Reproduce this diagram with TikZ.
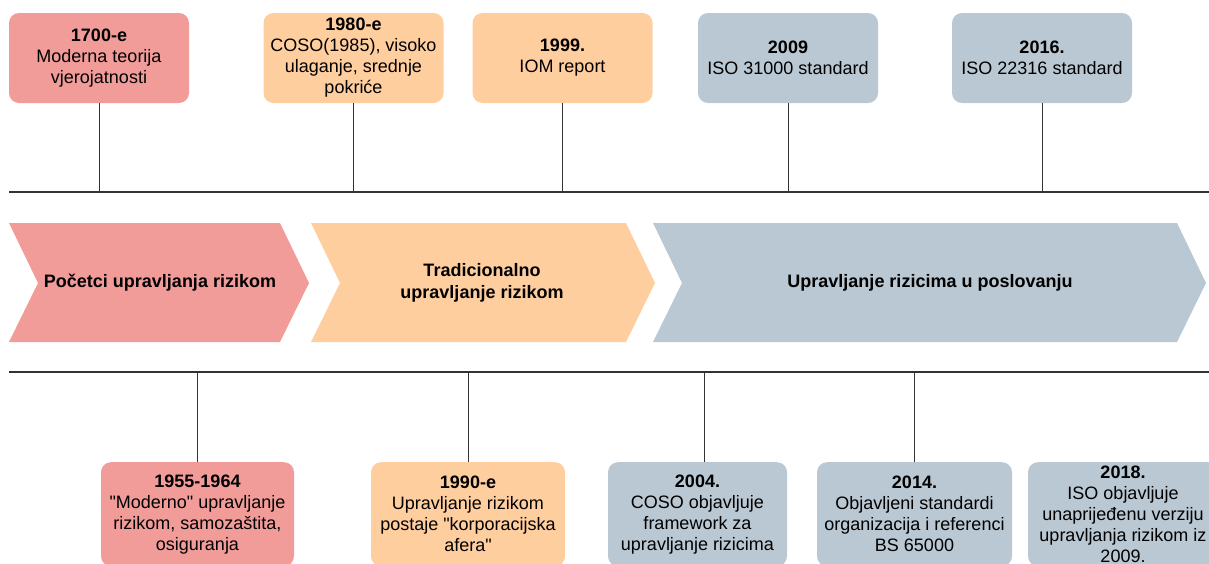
\documentclass[tikz,border=0pt]{standalone}
\usepackage{fontspec}
\setmainfont{Liberation Sans}
\newfontfamily\riskfont{Liberation Sans}
\definecolor{riskred}{RGB}{241,156,153}
\definecolor{riskorange}{RGB}{255,206,159}
\definecolor{riskgrey}{RGB}{186,200,211}

\begin{document}
\begin{tikzpicture}[x=1pt, y=-1pt, font=\riskfont\fontsize{18}{21}\selectfont,
    event/.style = {rounded corners=10pt, minimum width=180pt, minimum height=90pt, align=center, inner sep=2pt},
    lowevent/.style = {event, minimum height=104pt, anchor=north},
    stem/.style = {draw=black!80, line width=1pt},
    axis/.style = {draw=black!80, line width=1.5pt},
    phase/.style = {font=\riskfont\fontsize{18}{21.5}\selectfont\bfseries, align=center}]

    \useasboundingbox (0,0) rectangle (1209,563);

    % events above the phases
    \node[event, fill=riskred] (t1) at (99,58) {\textbf{1700-e}\\Moderna teorija\\vjerojatnosti};
    \node[event, fill=riskorange] (t2) at (353.5,58) {\textbf{1980-e}\\COSO(1985), visoko\\ulaganje, srednje\\pokriće};
    \node[event, fill=riskorange] (t3) at (562.5,58) {\textbf{1999.}\\IOM report};
    \node[event, fill=riskgrey] (t4) at (788,58) {\textbf{2009}\\ISO 31000 standard};
    \node[event, fill=riskgrey] (t5) at (1042,58) {\textbf{2016.}\\ISO 22316 standard};

    \coordinate (tl) at (9,192);
    \coordinate (tr) at (1209,192);
    \draw[axis] (tl) -- (tr);

    \draw[stem] (t1.south) -- (t1.south |- tl);
    \draw[stem] (t2.south) -- (t2.south |- tl);
    \draw[stem] (t3.south) -- (t3.south |- tl);
    \draw[stem] (t4.south) -- (t4.south |- tl);
    \draw[stem] (t5.south) -- (t5.south |- tl);

    % phases
    \fill[riskred] (9,223) -- (280,223) -- (309,283) -- (280,342) -- (9,342) -- (38,283) -- cycle;
    \fill[riskorange] (311,223) -- (626,223) -- (655,283) -- (626,342) -- (311,342) -- (340,283) -- cycle;
    \fill[riskgrey] (653,223) -- (1177,223) -- (1206,283) -- (1177,342) -- (653,342) -- (682,283) -- cycle;
    \node[phase] (p1) at (160,283) {Početci upravljanja rizikom};
    \node[phase] (p2) at (482,283) {Tradicionalno\\upravljanje rizikom};
    \node[phase] (p3) at (930,283) {Upravljanje rizicima u poslovanju};

    % events below the phases
    \coordinate (bl) at (9,372);
    \coordinate (br) at (1209,372);
    \draw[axis] (bl) -- (br);

    \node[lowevent, fill=riskred, minimum width=193pt] (b1) at (197.5,462) {\textbf{1955-1964}\\"Moderno" upravljanje\\rizikom, samozaštita,\\osiguranja};
    \node[lowevent, fill=riskorange, minimum width=194pt] (b2) at (468,462) {\textbf{1990-e}\\Upravljanje rizikom\\postaje "korporacijska\\afera"};
    \node[lowevent, fill=riskgrey, minimum width=179pt] (b3) at (697.5,462) {\textbf{2004.}\\COSO objavljuje\\framework za\\upravljanje rizicima};
    \node[lowevent, fill=riskgrey, minimum width=195pt] (b4) at (914.5,462) {\textbf{2014.}\\Objavljeni standardi\\organizacija i referenci\\BS 65000};
    \node[lowevent, fill=riskgrey, minimum width=190pt] (b5) at (1123,462) {\textbf{2018.}\\ISO objavljuje\\unaprijeđenu verziju\\upravljanja rizikom iz\\2009.};

    \coordinate (s3) at (704,372);
    \draw[stem] (b1.north) -- (b1.north |- bl);
    \draw[stem] (b2.north) -- (b2.north |- bl);
    \draw[stem] (s3) -- (s3 |- b3.north);
    \draw[stem] (b4.north) -- (b4.north |- bl);
\end{tikzpicture}
\end{document}
